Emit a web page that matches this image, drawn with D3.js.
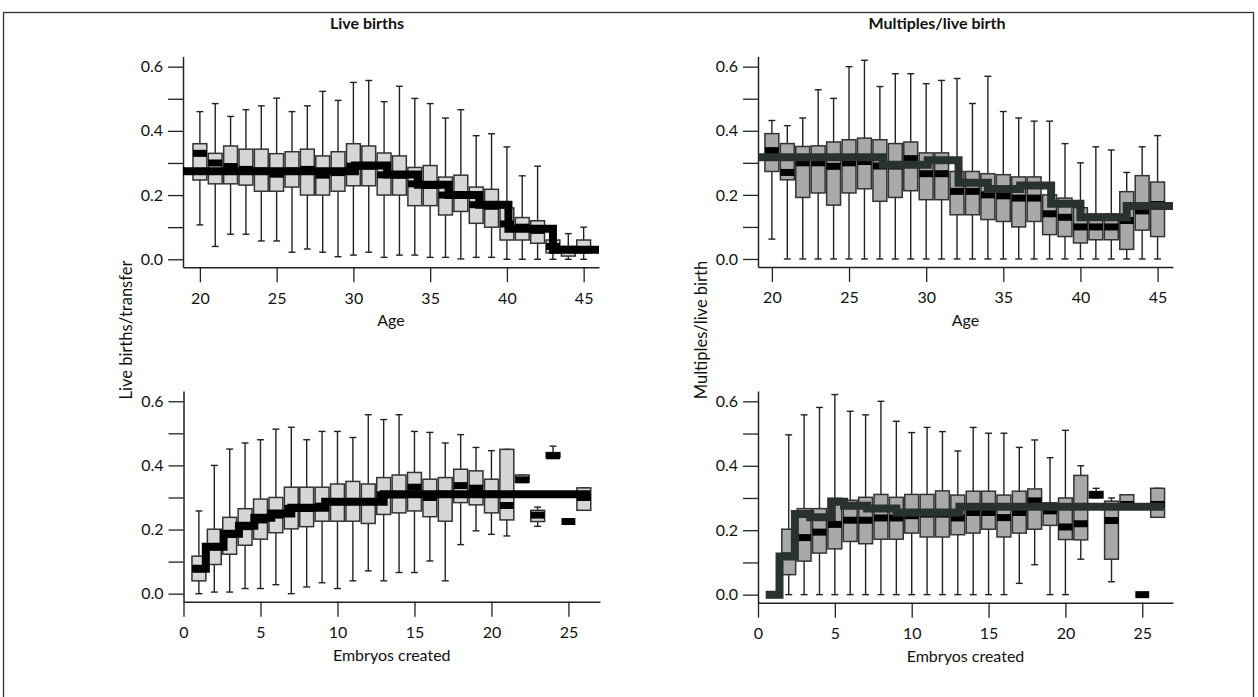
<!DOCTYPE html>
<html>
<head>
<meta charset="utf-8">
<script src="https://cdn.jsdelivr.net/npm/d3@7"></script>
<style>
  html, body { margin: 0; padding: 0; background: #fff; }
  svg { display: block; }
  text { font-family: Lato, "Open Sans", sans-serif; fill: #111; }
</style>
</head>
<body>
<svg id="chart" width="1258" height="697"></svg>
<script>
// ---- Live births per transfer by age ----
const ages = [20,21,22,23,24,25,26,27,28,29,30,31,32,33,34,35,36,37,38,39,40,41,42,43,44,45];
const lbAgeLow  = [0.107,0.04,0.078,0.078,0.057,0.057,0.022,0.032,0.022,0.008,0.013,0.022,0.006,0.013,0.013,0.006,0.006,0.001,0.006,0.006,0.0,0.0,0.0,0.0,0.0,0.0];
const lbAgeQ1   = [0.247,0.235,0.235,0.231,0.212,0.212,0.225,0.2,0.2,0.212,0.229,0.229,0.2,0.2,0.167,0.167,0.138,0.149,0.112,0.1,0.06,0.06,0.05,0.02,0.01,0.02];
const lbAgeMed  = [0.33,0.30,0.289,0.28,0.275,0.265,0.275,0.28,0.262,0.27,0.29,0.29,0.263,0.262,0.235,0.23,0.2,0.2,0.17,0.165,0.11,0.1,0.09,0.04,0.03,0.03];
const lbAgeQ3   = [0.36,0.33,0.353,0.343,0.343,0.329,0.335,0.343,0.322,0.335,0.36,0.353,0.331,0.322,0.286,0.292,0.256,0.262,0.225,0.218,0.16,0.13,0.12,0.06,0.04,0.06];
const lbAgeHigh = [0.46,0.485,0.445,0.466,0.478,0.502,0.46,0.478,0.523,0.495,0.551,0.557,0.491,0.539,0.501,0.485,0.44,0.466,0.385,0.391,0.35,0.26,0.29,0.10,0.08,0.10];
const lbAgeStepEdges  = [18.9,30.1,32.2,34.2,36.2,38.2,40.1,43.0,46.0];
const lbAgeStepLevels = [0.274,0.292,0.264,0.232,0.2,0.17,0.095,0.03];

// ---- Multiples per live birth by age ----
const mlAgeLow  = [0.062,0,0,0,0,0,0,0,0,0,0,0,0,0,0,0,0,0,0,0,0,0,0,0,0,0];
const mlAgeQ1   = [0.273,0.247,0.192,0.206,0.168,0.206,0.219,0.18,0.192,0.213,0.185,0.185,0.138,0.138,0.123,0.117,0.1,0.117,0.076,0.07,0.05,0.06,0.06,0.03,0.09,0.07];
const mlAgeMed  = [0.338,0.27,0.3,0.3,0.289,0.3,0.304,0.29,0.29,0.313,0.266,0.266,0.211,0.211,0.2,0.197,0.19,0.19,0.141,0.13,0.1,0.1,0.1,0.12,0.15,0.17];
const mlAgeQ3   = [0.391,0.36,0.351,0.353,0.365,0.372,0.377,0.372,0.36,0.365,0.331,0.331,0.273,0.273,0.266,0.263,0.256,0.256,0.2,0.19,0.16,0.14,0.14,0.21,0.26,0.24];
const mlAgeHigh = [0.432,0.416,0.44,0.528,0.501,0.6,0.62,0.538,0.578,0.578,0.547,0.557,0.563,0.485,0.57,0.46,0.44,0.43,0.43,0.36,0.3,0.35,0.34,0.27,0.35,0.385];
const mlAgeStepEdges  = [19.1,27.2,30.1,32.1,34.0,36.1,38.1,40.0,43.0,46.0];
const mlAgeStepLevels = [0.317,0.294,0.308,0.238,0.218,0.229,0.172,0.13,0.165];

// ---- Live births per transfer by embryos created ----
const embryos = [1,2,3,4,5,6,7,8,9,10,11,12,13,14,15,16,17,18,19,20,21,22,23,24,25,26];
const lbEmbLow  = [0,0.005,0.005,0.016,0.016,0.028,0,0.021,0.034,0.016,0.04,0.071,0.04,0.066,0.066,0.102,0.04,0.153,0.196,0.185,0.18,0.355,0.21,0.425,0.225,0.26];
const lbEmbQ1   = [0.04,0.091,0.123,0.151,0.17,0.19,0.202,0.209,0.226,0.226,0.226,0.219,0.247,0.252,0.258,0.24,0.226,0.284,0.277,0.252,0.23,0.348,0.225,0.425,0.225,0.26];
const lbEmbMed  = [0.078,0.146,0.185,0.209,0.23,0.245,0.266,0.266,0.273,0.287,0.287,0.287,0.308,0.308,0.332,0.30,0.31,0.337,0.329,0.31,0.275,0.355,0.245,0.43,0.225,0.30];
const lbEmbQ3   = [0.117,0.201,0.238,0.265,0.295,0.3,0.332,0.332,0.332,0.342,0.35,0.342,0.362,0.37,0.378,0.357,0.362,0.388,0.383,0.357,0.45,0.37,0.26,0.44,0.225,0.33];
const lbEmbHigh = [0.258,0.4,0.451,0.47,0.48,0.513,0.519,0.48,0.506,0.506,0.487,0.558,0.543,0.558,0.506,0.503,0.47,0.496,0.456,0.446,0.45,0.37,0.27,0.46,0.225,0.33];
const lbEmbStepEdges  = [0.6,1.45,2.6,3.6,4.6,5.7,7.0,9.2,13.0,26.4];
const lbEmbStepLevels = [0.078,0.146,0.187,0.212,0.237,0.25,0.268,0.287,0.31];

// ---- Multiples per live birth by embryos created ----
const mlEmbLow  = [0,0,0,0,0,0,0,0,0,0,0,0,0,0,0,0,0.035,0.093,0,0,0.11,0.30,0.04,0.27,0,0.24];
const mlEmbQ1   = [0,0.062,0.104,0.129,0.142,0.165,0.158,0.172,0.172,0.191,0.179,0.179,0.186,0.191,0.203,0.179,0.191,0.203,0.215,0.171,0.17,0.30,0.11,0.27,0,0.24];
const mlEmbMed  = [0,0.12,0.177,0.194,0.218,0.231,0.231,0.238,0.238,0.245,0.25,0.25,0.238,0.255,0.255,0.239,0.255,0.291,0.26,0.21,0.22,0.31,0.23,0.28,0,0.28];
const mlEmbQ3   = [0,0.203,0.267,0.267,0.299,0.293,0.302,0.311,0.302,0.311,0.311,0.322,0.309,0.321,0.321,0.309,0.321,0.328,0.285,0.30,0.37,0.32,0.29,0.31,0,0.33];
const mlEmbHigh = [0,0.496,0.558,0.581,0.621,0.569,0.558,0.6,0.538,0.503,0.519,0.506,0.446,0.519,0.501,0.501,0.457,0.48,0.425,0.51,0.40,0.33,0.30,0.31,0,0.33];
const mlEmbStepEdges  = [0.5,1.4,2.4,3.4,4.8,5.6,7.1,9.0,13.1,26.4];
const mlEmbStepLevels = [0.0,0.118,0.25,0.24,0.288,0.276,0.267,0.255,0.273];

const yTickValues = [0,0.1,0.2,0.3,0.4,0.5,0.6];
const ageTicks = [20,25,30,35,40,45];
const embTicks = [0,5,10,15,20,25];

const svg = d3.select("#chart");

// outer frame
svg.append("rect")
  .attr("x", 3.5).attr("y", 12.5)
  .attr("width", 1250).attr("height", 700)
  .attr("fill", "none").attr("stroke", "#333").attr("stroke-width", 1.3);

function zip(xs, lo, q1, med, q3, hi) {
  return xs.map((x, i) => ({x, lo: lo[i], q1: q1[i], med: med[i], q3: q3[i], hi: hi[i]}));
}

function panel(opt) {
  const x = d3.scaleLinear().domain(opt.xDomain).range([opt.x0, opt.x1]);
  const y = d3.scaleLinear().domain([-0.025, 0.632]).range([opt.yBottom, opt.yTop]);
  const g = svg.append("g");
  const bw = (x(1) - x(0)) * 0.9;
  const cap = bw * 0.5;

  // y axis
  const ya = g.append("g").attr("transform", `translate(${opt.x0},0)`)
    .call(d3.axisLeft(y).tickValues(yTickValues).tickSize(15).tickSizeOuter(0).tickPadding(5)
      .tickFormat(d => (Math.round(d * 10) % 2 === 0) ? d3.format(".1f")(d) : ""));
  // x axis
  const xa = g.append("g").attr("transform", `translate(0,${opt.yBottom})`)
    .call(d3.axisBottom(x).tickValues(opt.ticks).tickSize(15).tickSizeOuter(0).tickPadding(10));
  [ya, xa].forEach(a => {
    a.selectAll("path.domain").attr("stroke", "#222").attr("stroke-width", 1.5);
    a.selectAll(".tick line").attr("stroke", "#222").attr("stroke-width", 1.3);
    a.selectAll(".tick text").attr("font-size", 16).attr("fill", "#111")
      .attr("font-family", "Lato, 'Open Sans', sans-serif");
  });

  const data = opt.data;
  const bx = g.append("g");
  // whiskers
  bx.selectAll("line.w").data(data).join("line")
    .attr("x1", d => x(d.x)).attr("x2", d => x(d.x))
    .attr("y1", d => y(d.lo)).attr("y2", d => y(d.hi))
    .attr("stroke", "#222").attr("stroke-width", 1.4);
  bx.selectAll("line.ch").data(data).join("line")
    .attr("x1", d => x(d.x) - cap / 2).attr("x2", d => x(d.x) + cap / 2)
    .attr("y1", d => y(d.hi)).attr("y2", d => y(d.hi))
    .attr("stroke", "#222").attr("stroke-width", 1.4);
  bx.selectAll("line.cl").data(data).join("line")
    .attr("x1", d => x(d.x) - cap / 2).attr("x2", d => x(d.x) + cap / 2)
    .attr("y1", d => y(d.lo)).attr("y2", d => y(d.lo))
    .attr("stroke", "#222").attr("stroke-width", 1.4);
  // boxes
  bx.selectAll("rect.b").data(data.filter(d => d.q3 > d.q1)).join("rect")
    .attr("x", d => x(d.x) - bw / 2).attr("width", bw)
    .attr("y", d => y(d.q3)).attr("height", d => y(d.q1) - y(d.q3))
    .attr("fill", opt.boxFill).attr("stroke", "#333").attr("stroke-width", 1.5);
  // medians
  bx.selectAll("rect.m").data(data).join("rect")
    .attr("x", d => x(d.x) - bw / 2).attr("width", bw)
    .attr("y", d => y(d.med) - 3.5).attr("height", 7)
    .attr("fill", "#000");

  // fitted step line
  const pts = opt.stepLevels.map((v, i) => [opt.stepEdges[i], v]);
  pts.push([opt.stepEdges[opt.stepEdges.length - 1], opt.stepLevels[opt.stepLevels.length - 1]]);
  g.append("path")
    .attr("d", d3.line().x(d => x(d[0])).y(d => y(d[1])).curve(d3.curveStepAfter)(pts))
    .attr("fill", "none").attr("stroke", opt.stepColor).attr("stroke-width", 8)
    .attr("stroke-linejoin", "miter").attr("stroke-linecap", "butt");

  // axis title
  g.append("text").attr("x", (opt.x0 + opt.x1) / 2).attr("y", opt.yBottom + 59)
    .attr("text-anchor", "middle").attr("font-size", 16).text(opt.xLabel);
}

panel({x0: 183, x1: 599, yBottom: 267.3, yTop: 56.4, xDomain: [18.9, 46], ticks: ageTicks,
  data: zip(ages, lbAgeLow, lbAgeQ1, lbAgeMed, lbAgeQ3, lbAgeHigh),
  stepEdges: lbAgeStepEdges, stepLevels: lbAgeStepLevels,
  boxFill: "#d6d6d8", stepColor: "#000", xLabel: "Age"});
panel({x0: 758, x1: 1173, yBottom: 267, yTop: 56.4, xDomain: [19.1, 46], ticks: ageTicks,
  data: zip(ages, mlAgeLow, mlAgeQ1, mlAgeMed, mlAgeQ3, mlAgeHigh),
  stepEdges: mlAgeStepEdges, stepLevels: mlAgeStepLevels,
  boxFill: "#a9a9ac", stepColor: "#2a3230", xLabel: "Age"});
panel({x0: 183.5, x1: 600, yBottom: 601.7, yTop: 391, xDomain: [0, 27.05], ticks: embTicks,
  data: zip(embryos, lbEmbLow, lbEmbQ1, lbEmbMed, lbEmbQ3, lbEmbHigh),
  stepEdges: lbEmbStepEdges, stepLevels: lbEmbStepLevels,
  boxFill: "#d6d6d8", stepColor: "#000", xLabel: "Embryos created"});
panel({x0: 758, x1: 1173, yBottom: 602.7, yTop: 391, xDomain: [0, 27.0], ticks: embTicks,
  data: zip(embryos, mlEmbLow, mlEmbQ1, mlEmbMed, mlEmbQ3, mlEmbHigh),
  stepEdges: mlEmbStepEdges, stepLevels: mlEmbStepLevels,
  boxFill: "#a9a9ac", stepColor: "#2a3230", xLabel: "Embryos created"});

// column titles
svg.append("text").attr("x", 367).attr("y", 29).attr("text-anchor", "middle")
  .attr("font-size", 16).attr("font-weight", "bold").text("Live births");
svg.append("text").attr("x", 937).attr("y", 29).attr("text-anchor", "middle")
  .attr("font-size", 16).attr("font-weight", "bold").text("Multiples/live birth");

// shared y-axis titles
svg.append("text").attr("transform", "translate(132,330) rotate(-90)")
  .attr("text-anchor", "middle").attr("font-size", 16.5).text("Live births/transfer");
svg.append("text").attr("transform", "translate(707,330) rotate(-90)")
  .attr("text-anchor", "middle").attr("font-size", 16.5).text("Multiples/live birth");
</script>
</body>
</html>
